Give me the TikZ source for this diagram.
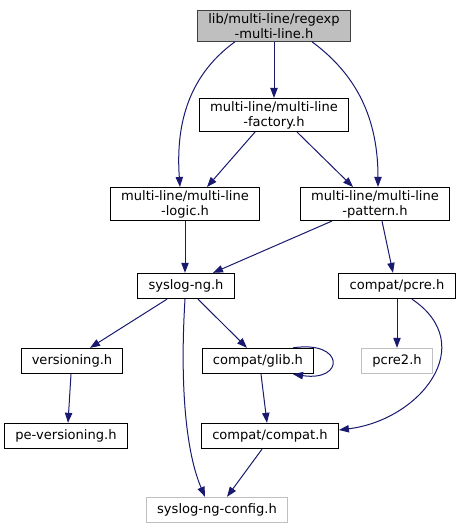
\documentclass[tikz,border=0pt]{standalone}
\usepackage{fontspec}
\setmainfont{DejaVu Sans}
\usepackage{tikz}
\usetikzlibrary{arrows.meta, positioning}

\definecolor{edgeblue}{HTML}{191970}
\definecolor{rootgray}{HTML}{BFBFBF}
\definecolor{extgray}{HTML}{BFBFBF}

\tikzset{
	box/.style={draw=black, line width=0.75pt, fill=white, inner xsep=8pt, inner ysep=2pt,
		minimum height=19pt, align=center, font=\fontsize{9.8}{11.3}\selectfont},
	rootbox/.style={box, draw=black!75, fill=rootgray},
	extbox/.style={box, draw=extgray},
	edge/.style={draw=edgeblue, line width=0.75pt, -{Triangle[length=7.5pt, width=5.5pt]}}
}

\begin{document}
\begin{tikzpicture}[x=0.75pt, y=-0.75pt]
	\useasboundingbox (0,0) rectangle (460,529);
	
	% Knoten
	\node[rootbox] (root) at (274,26) {lib/multi-line/regexp\\-multi-line.h};
	\node[box] (factory) at (274,115) {multi-line/multi-line\\-factory.h};
	\node[box] (logic) at (185,204) {multi-line/multi-line\\-logic.h};
	\node[box] (pattern) at (375,204) {multi-line/multi-line\\-pattern.h};
	\node[box] (syslog) at (186,286) {syslog-ng.h};
	\node[box] (pcre) at (397,286) {compat/pcre.h};
	\node[box] (vers) at (72,361) {versioning.h};
	\node[box] (glib) at (258,361) {compat/glib.h};
	\node[extbox] (pcretwo) at (397,361) {pcre2.h};
	\node[box] (pevers) at (66,436) {pe-versioning.h};
	\node[box] (compat) at (270,436) {compat/compat.h};
	\node[extbox] (config) at (217,510) {syslog-ng-config.h};
	
	% Kanten
	\draw[edge] (root.south) -- (factory.north);
	\draw[edge] ([shift={(-39,0)}]root.south) .. controls (185,78) and (176,130) .. ([shift={(-5,0)}]logic.north);
	\draw[edge] ([shift={(38,0)}]root.south) .. controls (350,70) and (378,110) .. ([shift={(3,0)}]pattern.north);
	\draw[edge] ([shift={(-19,0)}]factory.south) -- ([shift={(22,0)}]logic.north);
	\draw[edge] ([shift={(23,0)}]factory.south) -- ([shift={(-22,0)}]pattern.north);
	\draw[edge] (logic.south) -- ([shift={(-1,0)}]syslog.north);
	\draw[edge] ([shift={(-43,0)}]pattern.south) -- ([shift={(27,0)}]syslog.north);
	\draw[edge] ([shift={(7,0)}]pattern.south) -- ([shift={(-4,0)}]pcre.north);
	\draw[edge] ([shift={(-19,0)}]syslog.south) -- ([shift={(18,0)}]vers.north);
	\draw[edge] ([shift={(12,0)}]syslog.south) -- ([shift={(-11,0)}]glib.north);
	\draw[edge] ([shift={(-1,0)}]syslog.south) .. controls (180,380) and (185,450) .. ([shift={(-12,0)}]config.north);
	\draw[edge] ([shift={(35,0)}]glib.north) .. controls (345,340) and (345,382) .. ([shift={(35,0)}]glib.south);
	\draw[edge] ([shift={(3,0)}]glib.south) -- ([shift={(-3,0)}]compat.north);
	\draw[edge] ([shift={(-1,0)}]vers.south) -- ([shift={(2,0)}]pevers.north);
	\draw[edge] (pcre.south) -- (pcretwo.north);
	\draw[edge] ([shift={(15,0)}]pcre.south) .. controls (480,345) and (420,420) .. ([shift={(0,-6)}]compat.east);
	\draw[edge] ([shift={(-8,0)}]compat.south) -- ([shift={(10,0)}]config.north);
\end{tikzpicture}
\end{document}
